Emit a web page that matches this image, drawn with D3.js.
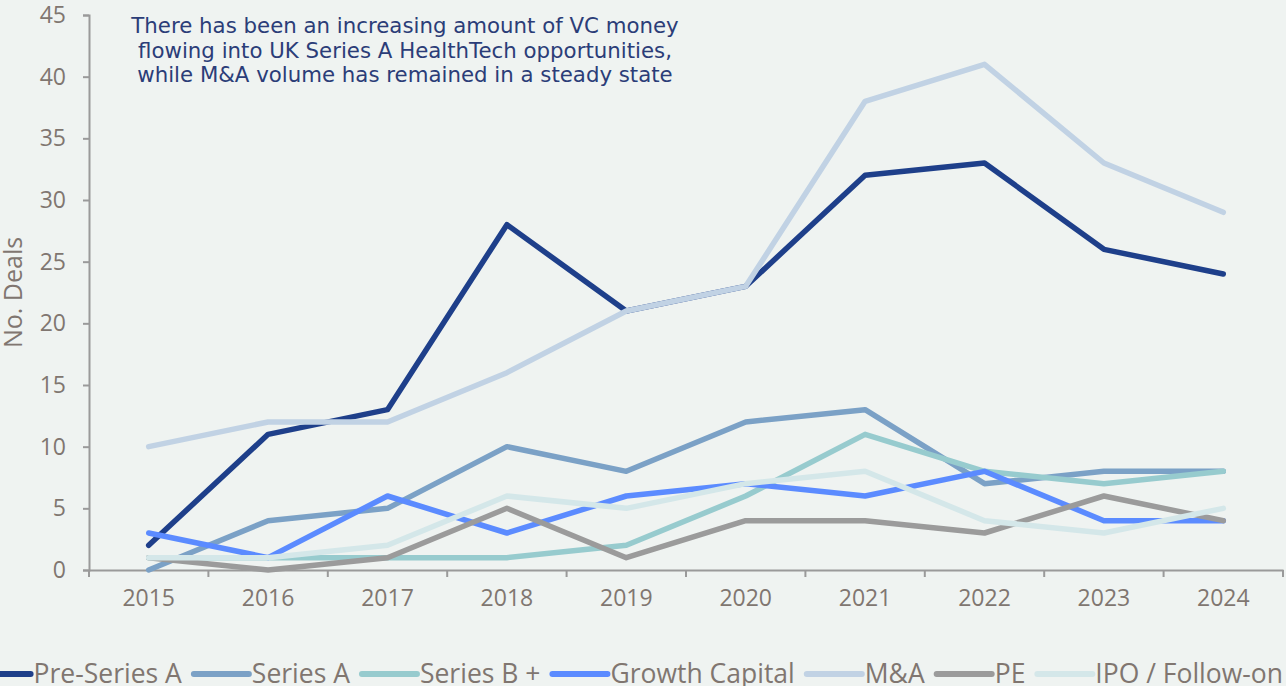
<!DOCTYPE html>
<html>
<head>
<meta charset="utf-8">
<script src="https://cdn.jsdelivr.net/npm/d3@7"></script>
<style>
  html, body { margin: 0; padding: 0; background: #eff3f1; }
  #chart { width: 1286px; height: 686px; overflow: hidden; }
  text { font-family: "Open Sans", sans-serif; }
</style>
</head>
<body>
<div id="chart"></div>
<script>
var years = ["2015","2016","2017","2018","2019","2020","2021","2022","2023","2024"];

var preSeriesA    = [2, 11, 13, 28, 21, 23, 32, 33, 26, 24];
var seriesA       = [0, 4, 5, 10, 8, 12, 13, 7, 8, 8];
var seriesBPlus   = [1, 1, 1, 1, 2, 6, 11, 8, 7, 8];
var growthCapital = [3, 1, 6, 3, 6, 7, 6, 8, 4, 4];
var mAndA         = [10, 12, 12, 16, 21, 23, 38, 41, 33, 29];
var pe            = [1, 0, 1, 5, 1, 4, 4, 3, 6, 4];
var ipoFollowOn   = [1, 1, 2, 6, 5, 7, 8, 4, 3, 5];

var seriesNames  = ["Pre-Series A", "Series A", "Series B +", "Growth Capital", "M&A", "PE", "IPO / Follow-on"];
var seriesValues = [preSeriesA, seriesA, seriesBPlus, growthCapital, mAndA, pe, ipoFollowOn];
var seriesColors = ["#1e3f8a", "#7ba1c6", "#97cbce", "#5b8bff", "#c1d2e4", "#9b9b9b", "#d4e7e9"];

var yTicks = [0, 5, 10, 15, 20, 25, 30, 35, 40, 45];

var note = ["There has been an increasing amount of VC money",
            "flowing into UK Series A HealthTech opportunities,",
            "while M&A volume has remained in a steady state"];

var width = 1286, height = 686,
    plot = {left: 89, right: 1283, top: 15, bottom: 570},
    axisColor = "#9a9a9a", textColor = "#807670";

var svg = d3.select("#chart").append("svg")
  .attr("width", width)
  .attr("height", height);

var x = d3.scaleBand().domain(years).range([plot.left, plot.right]);
var y = d3.scaleLinear().domain([0, 45]).range([plot.bottom, plot.top]);

// y axis
var yAxis = svg.append("g")
  .attr("transform", "translate(" + plot.left + ",0)")
  .call(d3.axisLeft(y).tickValues(yTicks).tickSize(6).tickPadding(17));
yAxis.select(".domain").attr("stroke", axisColor).attr("stroke-width", 2);
yAxis.selectAll(".tick line").attr("stroke", axisColor).attr("stroke-width", 2);
yAxis.selectAll(".tick text")
  .attr("fill", textColor)
  .style("font-size", "23px");

// x axis, ticks on category boundaries
var xAxis = svg.append("g")
  .attr("transform", "translate(0," + plot.bottom + ")")
  .call(d3.axisBottom(x).tickSize(0).tickPadding(20));
xAxis.select(".domain").attr("stroke", axisColor).attr("stroke-width", 2);
xAxis.selectAll(".tick text")
  .attr("fill", textColor)
  .style("font-size", "23px");
xAxis.selectAll(".bound")
  .data(years.concat(["end"]))
  .enter().append("line")
  .attr("x1", function(d, i) { return plot.left + i * x.step(); })
  .attr("x2", function(d, i) { return plot.left + i * x.step(); })
  .attr("y1", 0).attr("y2", 7)
  .attr("stroke", axisColor).attr("stroke-width", 2);

svg.append("text")
  .attr("transform", "translate(22," + ((plot.top + plot.bottom) / 2) + ") rotate(-90)")
  .attr("text-anchor", "middle")
  .attr("fill", textColor)
  .style("font-size", "25px")
  .text("No. Deals");

// lines
var line = d3.line()
  .x(function(d, i) { return x(years[i]) + x.bandwidth() / 2; })
  .y(function(d) { return y(d); });

svg.append("g").selectAll("path")
  .data(seriesValues)
  .enter().append("path")
  .attr("d", line)
  .attr("fill", "none")
  .attr("stroke", function(d, i) { return seriesColors[i]; })
  .attr("stroke-width", 5.5)
  .attr("stroke-linecap", "round")
  .attr("stroke-linejoin", "round");

// annotation
svg.append("text")
  .attr("text-anchor", "middle")
  .attr("fill", "#2b3d78")
  .style("font-family", "'DejaVu Sans', sans-serif")
  .style("font-size", "21.3px")
  .selectAll("tspan")
  .data(note)
  .enter().append("tspan")
  .attr("x", 405)
  .attr("y", function(d, i) { return 33 + i * 24.5; })
  .text(function(d) { return d; });

// legend
var legend = svg.append("g").attr("transform", "translate(0,674)");
var swatch = 55, gap = 3, spacing = 12;
var items = legend.selectAll("g")
  .data(seriesNames)
  .enter().append("g");
items.append("line")
  .attr("x1", 0).attr("x2", swatch)
  .attr("y1", 0).attr("y2", 0)
  .attr("stroke", function(d, i) { return seriesColors[i]; })
  .attr("stroke-width", 6)
  .attr("stroke-linecap", "round");
items.append("text")
  .attr("x", swatch + gap)
  .attr("dy", "0.35em")
  .attr("fill", textColor)
  .style("font-size", "26.5px")
  .text(function(d) { return d; });

var pos = 0, offsets = [];
items.each(function() {
  offsets.push(pos);
  pos += swatch + gap + this.querySelector("text").getComputedTextLength() + spacing;
});
var total = pos - spacing;
var start = plot.right - total;
items.attr("transform", function(d, i) { return "translate(" + (start + offsets[i]) + ",0)"; });
</script>
</body>
</html>
